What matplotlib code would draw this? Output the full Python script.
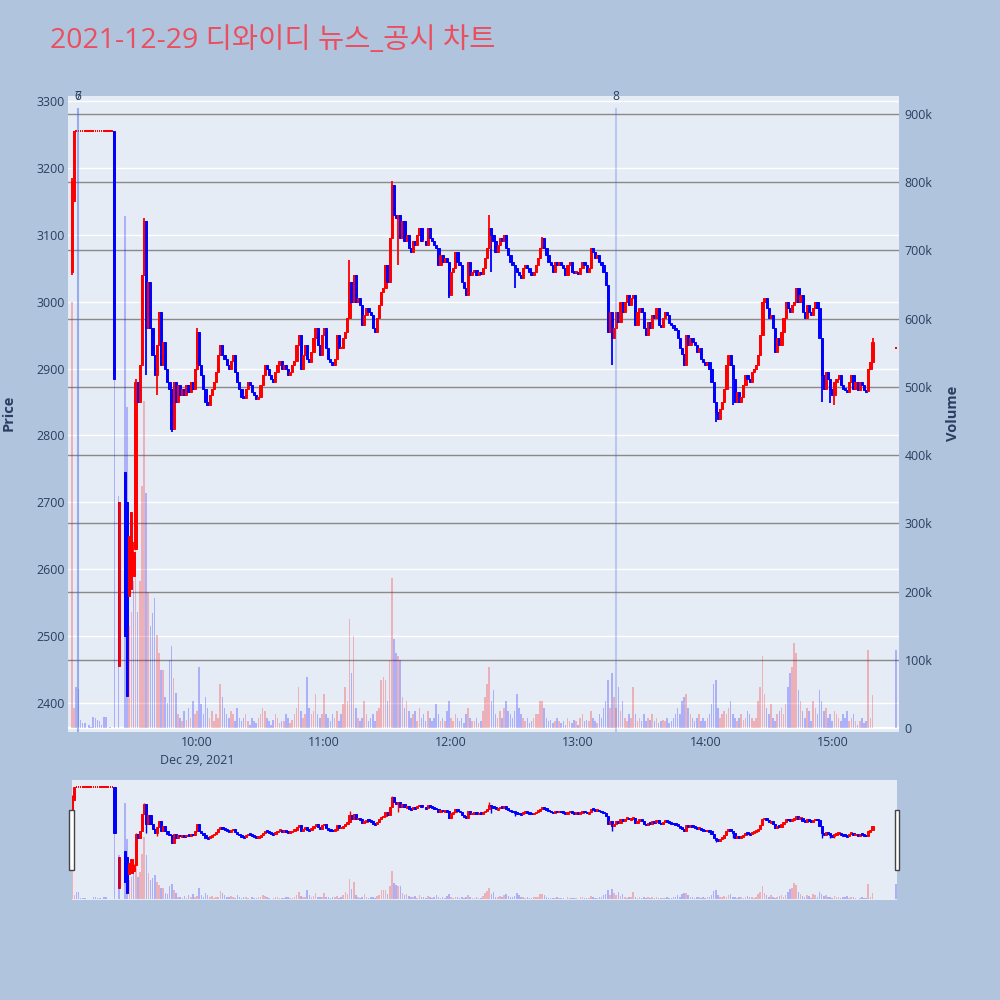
import matplotlib
matplotlib.use("Agg")
import matplotlib.pyplot as plt  # noqa: E402
from matplotlib.patches import Rectangle  # noqa: E402
from matplotlib.transforms import blended_transform_factory  # noqa: E402

# ---------------------------------------------------------------------------
# Data: 1-minute candles of 2021-12-29, x = minutes after 09:00
# ---------------------------------------------------------------------------

# opening minutes (gaps / halts), explicit OHLC
early_minutes = [1, 2, 21, 23, 26, 27, 28, 29, 30]
early_open = [3045, 3150, 3255, 2455, 2745, 2700, 2560, 2570, 2590]
early_high = [3185, 3255, 3255, 2700, 2745, 2700, 2650, 2685, 2640]
early_low = [3040, 3150, 2885, 2455, 2500, 2410, 2560, 2570, 2590]
early_close = [3180, 3255, 2885, 2700, 2500, 2410, 2650, 2685, 2625]

# flat candles pinned at the upper price during the morning halt
doji_minutes = [3, 4, 5, 6, 7, 8, 9, 10, 11, 12, 13, 14, 15, 16, 17, 18, 19, 20]
doji_price = 3255

# continuous session 09:31 .. 15:19, one close per minute
cont_first_minute = 31
cont_first_open = 2630
cont_close = [
    2880, 2850, 2905, 3040, 3120, 2960, 3030, 2960, 2920, 2890,
    2935, 2985, 2905, 2940, 2900, 2880, 2870, 2810, 2880, 2850,
    2875, 2860, 2870, 2860, 2875, 2865, 2880, 2870, 2900, 2955,
    2905, 2890, 2870, 2850, 2845, 2860, 2870, 2880, 2895, 2920,
    2935, 2920, 2915, 2905, 2900, 2912, 2920, 2895, 2880, 2870,
    2858, 2856, 2870, 2880, 2875, 2865, 2860, 2855, 2858, 2875,
    2890, 2905, 2900, 2890, 2885, 2880, 2895, 2905, 2912, 2900,
    2905, 2900, 2890, 2895, 2905, 2912, 2935, 2950, 2900, 2920,
    2935, 2915, 2910, 2925, 2945, 2960, 2935, 2920, 2950, 2960,
    2930, 2915, 2910, 2905, 2915, 2950, 2930, 2930, 2945, 2955,
    2975, 3030, 3000, 3040, 3000, 3005, 2995, 2965, 2980, 2990,
    2985, 2980, 2960, 2955, 2975, 2995, 3015, 3020, 3055, 3030,
    3095, 3175, 3130, 3125, 3130, 3095, 3120, 3090, 3100, 3080,
    3075, 3090, 3085, 3100, 3110, 3090, 3090, 3085, 3110, 3095,
    3090, 3085, 3080, 3055, 3070, 3060, 3065, 3060, 3010, 3045,
    3050, 3075, 3060, 3055, 3030, 3020, 3010, 3060, 3040, 3045,
    3048, 3040, 3045, 3042, 3050, 3065, 3080, 3110, 3100, 3090,
    3075, 3085, 3095, 3090, 3100, 3080, 3070, 3060, 3055, 3050,
    3045, 3040, 3035, 3050, 3055, 3050, 3045, 3040, 3045, 3055,
    3065, 3080, 3095, 3080, 3070, 3060, 3055, 3045, 3060, 3055,
    3060, 3055, 3050, 3040, 3055, 3060, 3045, 3043, 3045, 3042,
    3050, 3060, 3055, 3045, 3050, 3080, 3075, 3065, 3070, 3060,
    3055, 3045, 3025, 2955, 2985, 2945, 2960, 2985, 2970, 3000,
    2985, 3000, 3010, 2995, 3005, 3010, 2965, 2985, 2990, 2985,
    2960, 2950, 2970, 2960, 2980, 2975, 2990, 2965, 2962, 2975,
    2985, 2980, 2968, 2965, 2960, 2958, 2945, 2930, 2922, 2905,
    2950, 2935, 2945, 2940, 2935, 2925, 2930, 2915, 2910, 2905,
    2910, 2900, 2880, 2850, 2835, 2825, 2840, 2850, 2870, 2905,
    2920, 2905, 2885, 2850, 2865, 2850, 2858, 2875, 2890, 2885,
    2880, 2895, 2900, 2905, 2920, 2950, 3000, 3005, 2990, 2975,
    2980, 2960, 2925, 2945, 2935, 2955, 2975, 3000, 2990, 2985,
    2995, 3000, 3020, 3000, 3010, 2985, 2975, 2995, 2985, 2980,
    2990, 3000, 2990, 2945, 2890, 2870, 2895, 2885, 2870, 2860,
    2880, 2885, 2890, 2875, 2870, 2868, 2865, 2880, 2890, 2870,
    2880, 2868, 2880, 2875, 2868, 2866, 2900, 2910, 2940,
]

# wick extremes that stick out of the bodies
wick_minutes = [31, 35, 36, 41, 48, 60, 132, 152, 155, 179, 198, 199, 210,
                223, 256, 305, 313, 355, 359, 361, 379]
wick_prices = [2885, 3125, 2890, 2860, 2805, 2960, 3062, 3180, 3055, 3005,
               3130, 3045, 3020, 3097, 2905, 2820, 2845, 2850, 2848, 2845, 2945]

# closing auction 15:30
close_auction_minute = 390
close_auction_price = 2930

# volume in thousands, one value per minute 09:00 .. 15:30
volume_k = [
    0, 625, 30, 60, 57, 12, 7, 7, 0, 4,
    2, 16, 14, 12, 10, 4, 16, 16, 0, 2,
    0, 750, 0, 340, 0, 0, 750, 470, 150, 170,
    215, 350, 170, 215, 355, 480, 345, 200, 150, 168,
    190, 136, 110, 85, 85, 45, 37, 100, 120, 73,
    51, 20, 15, 10, 25, 12, 30, 15, 40, 20,
    25, 90, 35, 20, 45, 30, 15, 25, 10, 20,
    15, 65, 45, 30, 20, 15, 25, 20, 10, 30,
    15, 10, 15, 20, 10, 5, 15, 10, 8, 15,
    20, 30, 25, 15, 10, 5, 12, 20, 15, 8,
    10, 10, 20, 15, 8, 12, 20, 30, 60, 25,
    15, 20, 75, 30, 20, 25, 50, 20, 15, 20,
    50, 20, 15, 10, 20, 15, 25, 10, 20, 35,
    60, 40, 160, 80, 135, 30, 15, 10, 15, 40,
    20, 10, 15, 20, 10, 25, 30, 70, 75, 70,
    40, 100, 220, 130, 110, 105, 100, 45, 30, 40,
    25, 15, 20, 25, 10, 30, 15, 20, 10, 25,
    15, 10, 15, 35, 20, 10, 15, 10, 25, 40,
    15, 10, 20, 15, 10, 15, 8, 20, 30, 15,
    10, 10, 15, 8, 10, 25, 45, 65, 90, 40,
    55, 20, 15, 25, 15, 30, 40, 25, 20, 15,
    25, 50, 30, 20, 15, 10, 15, 8, 10, 15,
    20, 20, 40, 40, 30, 15, 10, 12, 8, 10,
    15, 10, 8, 10, 5, 15, 10, 8, 12, 10,
    5, 15, 20, 10, 12, 10, 25, 15, 10, 8,
    20, 15, 30, 40, 70, 30, 80, 45, 30, 60,
    25, 40, 15, 10, 20, 15, 60, 20, 10, 15,
    10, 20, 10, 15, 12, 20, 10, 15, 8, 10,
    12, 10, 15, 8, 10, 15, 20, 30, 20, 40,
    45, 50, 30, 20, 15, 10, 15, 20, 10, 15,
    10, 15, 20, 35, 65, 70, 30, 15, 20, 25,
    20, 30, 40, 20, 15, 10, 15, 20, 12, 15,
    25, 20, 15, 10, 15, 40, 60, 105, 50, 30,
    20, 35, 15, 10, 20, 25, 30, 20, 35, 60,
    80, 90, 125, 110, 55, 40, 25, 15, 30, 25,
    10, 40, 30, 20, 55, 40, 25, 30, 15, 20,
    10, 25, 20, 15, 10, 20, 15, 25, 10, 15,
    20, 10, 5, 10, 15, 8, 10, 115, 15, 48,
    0, 0, 0, 0, 0, 0, 0, 0, 0, 0,
    115,
]

# news / disclosure markers
marker_minutes = [3.7, 3.9, 257.8]
marker_labels = ["6", "7", "8"]

hour_ticks = [60, 120, 180, 240, 300, 360]
hour_labels = ["10:00\nDec 29, 2021", "11:00", "12:00", "13:00", "14:00", "15:00"]

TITLE = "2021-12-29 디와이디 뉴스_공시 차트"

RED = "#FF0000"
BLUE = "#0000FF"
PAPER = "#B0C4DE"
PLOT_BG = "#E5ECF6"
TEXT = "#2A3F5F"


# ---------------------------------------------------------------------------
# Assemble candles
# ---------------------------------------------------------------------------

def build_candles():
    cands = []
    for m, o, h, l, c in zip(early_minutes, early_open, early_high, early_low, early_close):
        cands.append([m, o, h, l, c])
    for m in doji_minutes:
        cands.append([m, doji_price, doji_price, doji_price, doji_price])
    prev = cont_first_open
    for i, c in enumerate(cont_close):
        m = cont_first_minute + i
        cands.append([m, prev, max(prev, c), min(prev, c), c])
        prev = c
    cands.append([close_auction_minute, close_auction_price, close_auction_price,
                  close_auction_price, close_auction_price])
    cands.sort(key=lambda r: r[0])
    by_min = {r[0]: r for r in cands}
    for m, p in zip(wick_minutes, wick_prices):
        r = by_min[m]
        r[2] = max(r[2], p)
        r[3] = min(r[3], p)
    return cands


candles = build_candles()
close_by_min = {r[0]: r[4] for r in candles}


def draw_panel(ax, axv, min_body, wick_lw, body_w, edge_lw):
    xs, bottoms, heights, cols = [], [], [], []
    dx, dy = [], []
    for m, o, h, l, c in candles:
        col = RED if c >= o else BLUE
        if h == l:
            # flat candle: short dash
            dx.append(m)
            dy.append(h)
            continue
        ax.vlines(m, l, h, color=col, lw=wick_lw, zorder=3)
        lo, hi = min(o, c), max(o, c)
        if hi - lo < min_body:
            mid = (hi + lo) / 2
            lo, hi = mid - min_body / 2, mid + min_body / 2
        xs.append(m)
        bottoms.append(lo)
        heights.append(hi - lo)
        cols.append(col)
    ax.bar(xs, heights, bottom=bottoms, width=body_w, color=cols, edgecolor=cols,
           zorder=3, linewidth=edge_lw)
    ax.bar(dx, [min_body] * len(dx), bottom=[y - min_body / 2 for y in dy],
           width=0.75, color=RED, linewidth=0, zorder=3)

    # volume bars: colour by close vs previous close
    vx, vh, vc = [], [], []
    prev_close = None
    for m, v in enumerate(volume_k):
        c = close_by_min.get(m)
        if c is not None:
            up = prev_close is None or c > prev_close
            prev_close = c
        else:
            up = False
        if v > 0:
            vx.append(m)
            vh.append(v)
            vc.append(RED if up else BLUE)
    axv.bar(vx, vh, width=0.75, color=vc, alpha=0.25, linewidth=0, zorder=2)


fig = plt.figure(figsize=(10, 10), dpi=100, facecolor=PAPER)
plt.rcParams["font.family"] = ["Open Sans", "DejaVu Sans"]

# ---------------------------------------------------------------------------
# Main panel
# ---------------------------------------------------------------------------
ax = fig.add_axes([0.068, 0.268, 0.831, 0.636])
ax.set_facecolor(PLOT_BG)
axv = ax.twinx()

PRICE_LIM = (2356.6, 3307.5)
VOL_LIM = (-5.9, 926.4)
X_LIM = (-0.9, 391.5)

ax.set_xlim(*X_LIM)
ax.set_ylim(*PRICE_LIM)
axv.set_ylim(*VOL_LIM)

for s in list(ax.spines.values()) + list(axv.spines.values()):
    s.set_visible(False)

price_ticks = list(range(2400, 3301, 100))
for p in price_ticks:
    ax.axhline(p, color="white", lw=1.0, zorder=0.5)
vol_ticks = list(range(0, 901, 100))
vol_tf = blended_transform_factory(ax.transAxes, axv.transData)
for v in vol_ticks[1:]:
    ax.plot([0, 1], [v, v], transform=vol_tf, color="#8A8A8A", lw=1.0, zorder=0.6)
ax.plot([0, 1], [0, 0], transform=vol_tf, color="white", lw=1.6, zorder=0.6)

draw_panel(ax, axv, min_body=3.0, wick_lw=1.3, body_w=1.05, edge_lw=0.7)

ax.set_yticks(price_ticks)
ax.set_yticklabels([str(p) for p in price_ticks])
axv.set_yticks(vol_ticks)
axv.set_yticklabels(["0"] + [f"{v}k" for v in vol_ticks[1:]])
ax.set_xticks(hour_ticks)
ax.set_xticklabels(hour_labels, linespacing=1.45)
ax.tick_params(axis="y", length=0, pad=2, labelsize=8.9, labelcolor=TEXT)
axv.tick_params(axis="y", length=0, pad=4, labelsize=8.9, labelcolor=TEXT)
ax.tick_params(axis="x", length=0, pad=3, labelsize=8.9, labelcolor=TEXT)
for lbl in ax.get_xticklabels():
    lbl.set_verticalalignment("top")

# news markers
mark_tf = blended_transform_factory(ax.transData, ax.transAxes)
for m, lab in zip(marker_minutes, marker_labels):
    axv.axvline(m, ymin=0, ymax=0.98, color="#4169E1", alpha=0.28, lw=1.5, zorder=4)
    ax.text(m, 0.999, lab, transform=mark_tf, ha="center", va="center",
            fontsize=8.7, color=TEXT, zorder=6, clip_on=False)

fig.text(0.009, 0.587, "Price", rotation=90, ha="center", va="center",
         fontsize=10.5, fontweight="bold", color=TEXT)
fig.text(0.953, 0.587, "Volume", rotation=90, ha="center", va="center",
         fontsize=10.5, fontweight="bold", color=TEXT)

fig.text(0.05, 0.959, TITLE, ha="left", va="center", fontsize=20.5,
         color="#EB4F5F", family=["Open Sans", "Noto Sans CJK KR"])

# ---------------------------------------------------------------------------
# Range slider
# ---------------------------------------------------------------------------
axs = fig.add_axes([0.072, 0.100, 0.825, 0.120])
axs.set_facecolor(PLOT_BG)
axsv = axs.twinx()
axs.set_xlim(0.9, 390.6)
axs.set_ylim(*PRICE_LIM)
axsv.set_ylim(*VOL_LIM)
for a in (axs, axsv):
    a.set_xticks([])
    a.set_yticks([])
    for s in a.spines.values():
        s.set_visible(False)
draw_panel(axs, axsv, min_body=14.0, wick_lw=1.0, body_w=1.05, edge_lw=0.7)

for hx in (0.0693, 0.8953):
    fig.patches.append(Rectangle((hx, 0.130), 0.0042, 0.060, transform=fig.transFigure,
                                 facecolor="white", edgecolor="#444444", lw=1.0))

fig.savefig("out.png", dpi=100, facecolor=PAPER)
